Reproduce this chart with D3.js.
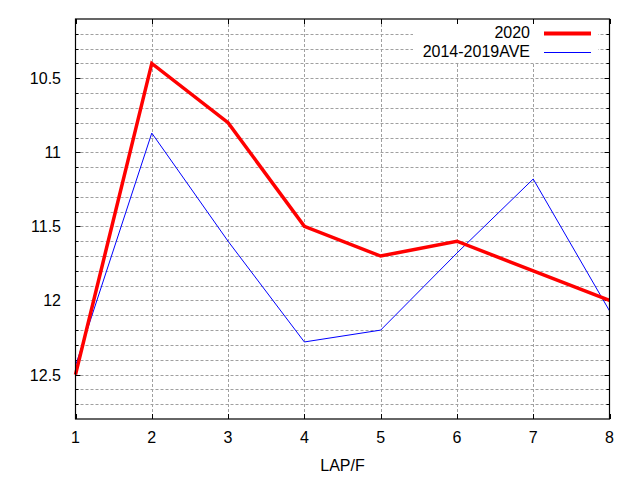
<!DOCTYPE html>
<html>
<head>
<meta charset="utf-8">
<script src="https://cdn.jsdelivr.net/npm/d3@7"></script>
<style>
  body { margin: 0; background: #fff; }
  text { font-family: "Liberation Sans", Arial, sans-serif; font-size: 16px; fill: #000; }
</style>
</head>
<body>
<svg width="640" height="480"></svg>
<script>
const laps = [1, 2, 3, 4, 5, 6, 7, 8];
const y2020 = [12.5, 10.4, 10.8, 11.5, 11.7, 11.6, 11.8, 12.0];
const yAve = [12.44, 10.87, 11.6, 12.28, 12.2, 11.68, 11.18, 12.07];
const yTicks = [10.5, 11, 11.5, 12, 12.5];
const yMinor = d3.range(102, 128).map(d => d / 10);

const svg = d3.select("svg");
const plotL = 75.5, plotR = 609.5, plotT = 19, plotB = 419;

const x = d3.scaleLinear().domain([1, 8]).range([plotL, plotR]);
const y = d3.scaleLinear().domain([10.1, 12.8]).range([plotT, plotB]);

// grid
const grid = svg.append("g")
    .attr("stroke", "#a0a0a0")
    .attr("stroke-width", 1)
    .attr("stroke-dasharray", "3,2");

grid.selectAll(".gy").data(yMinor).enter().append("line")
    .attr("x1", plotL).attr("x2", plotR)
    .attr("y1", d => Math.round(y(d)) + 0.5)
    .attr("y2", d => Math.round(y(d)) + 0.5);

grid.selectAll(".gx").data(laps.slice(1, -1)).enter().append("line")
    .attr("x1", d => Math.round(x(d)) + 0.5)
    .attr("x2", d => Math.round(x(d)) + 0.5)
    .attr("y1", plotT).attr("y2", plotB);

// legend background hides grid under key
svg.append("rect")
    .attr("x", 413).attr("y", plotT + 1)
    .attr("width", 185).attr("height", 42)
    .attr("fill", "#fff");

// ticks on all sides
const tk = svg.append("g").attr("stroke", "#000").attr("stroke-width", 1);
yMinor.forEach(function(d) {
    const major = yTicks.some(t => Math.abs(t - d) < 1e-6);
    const len = major ? 5 : 3;
    const yy = Math.round(y(d)) + 0.5;
    tk.append("line").attr("x1", plotL).attr("x2", plotL + len).attr("y1", yy).attr("y2", yy);
    tk.append("line").attr("x1", plotR - len).attr("x2", plotR).attr("y1", yy).attr("y2", yy);
});
laps.forEach(function(d) {
    const xx = Math.round(x(d)) + 0.5;
    tk.append("line").attr("x1", xx).attr("x2", xx).attr("y1", plotB).attr("y2", plotB - 5);
    tk.append("line").attr("x1", xx).attr("x2", xx).attr("y1", plotT).attr("y2", plotT + 5);
});

// tick labels
svg.selectAll(".yl").data(yTicks).enter().append("text")
    .attr("x", 61)
    .attr("y", d => y(d) + 6)
    .attr("text-anchor", "end")
    .text(d => d);

svg.selectAll(".xl").data(laps).enter().append("text")
    .attr("x", d => x(d))
    .attr("y", 443)
    .attr("text-anchor", "middle")
    .text(d => d);

svg.append("text")
    .attr("x", (plotL + plotR) / 2)
    .attr("y", 471)
    .attr("text-anchor", "middle")
    .text("LAP/F");

// lines
const line = d3.line()
    .x((d, i) => x(laps[i]))
    .y(d => y(d));

const plot = svg.append("g");

plot.append("path")
    .datum(yAve)
    .attr("fill", "none")
    .attr("stroke", "#0000ff")
    .attr("stroke-width", 1)
    .attr("d", line);

plot.append("path")
    .datum(y2020)
    .attr("fill", "none")
    .attr("stroke", "#ff0000")
    .attr("stroke-width", 3.5)
    .attr("d", line);

// frame
svg.append("rect")
    .attr("x", plotL).attr("y", plotT)
    .attr("width", plotR - plotL).attr("height", plotB - plotT)
    .attr("fill", "none")
    .attr("stroke", "#000")
    .attr("stroke-width", 1.2);

// key
const key = [
    { name: "2020", color: "#ff0000", w: 4, ty: 38, ly: 33.5 },
    { name: "2014-2019AVE", color: "#0000ff", w: 1, ty: 57, ly: 52.5 }
];
const kg = svg.append("g");
kg.selectAll("text").data(key).enter().append("text")
    .attr("x", 530)
    .attr("y", d => d.ty)
    .attr("text-anchor", "end")
    .text(d => d.name);
kg.selectAll("line").data(key).enter().append("line")
    .attr("x1", 544).attr("x2", 591)
    .attr("y1", d => d.ly).attr("y2", d => d.ly)
    .attr("stroke", d => d.color)
    .attr("stroke-width", d => d.w);
</script>
</body>
</html>
